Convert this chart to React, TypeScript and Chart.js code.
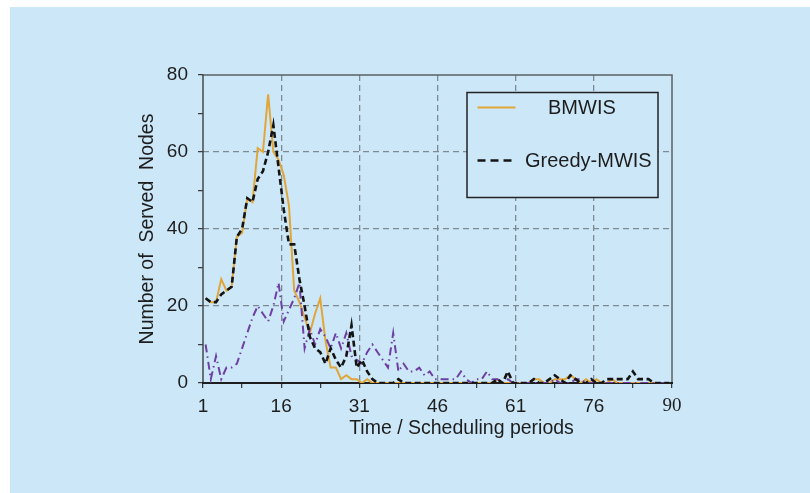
import React, { useEffect, useRef } from 'react';
import { Chart, registerables } from 'chart.js';

Chart.register(...registerables);

// ---- data ----
const periods: number[] = Array.from({ length: 90 }, (_, i) => i + 1);

const bmwis: number[] = [
  22, 21, 21, 27, 24, 25, 38, 39, 48, 47,
  61, 60, 75, 60, 58, 54, 46, 24, 21, 17,
  13, 18, 22, 11, 4, 4, 1, 2, 1, 1,
  0, 1, 0, 0, 0, 0, 0, 0, 0, 0,
  0, 0, 0, 0, 0, 0, 0, 0, 0, 0,
  0, 0, 0, 0, 0, 0, 1, 0, 0, 0,
  0, 0, 0, 1, 1, 0, 0, 1, 1, 1,
  2, 1, 0, 1, 0, 1, 0, 0, 1, 0,
  0, 0, 0, 0, 0, 0, 0, 0, 0, 0,
];

const greedyMwis: number[] = [
  22, 21, 21, 23, 24, 25, 38, 40, 48, 47,
  53, 55, 60, 67, 56, 45, 36, 36, 27, 20,
  12, 9, 8, 5, 9, 6, 4, 7, 15, 4,
  6, 3, 1, 0, 0, 0, 0, 1, 0, 0,
  0, 0, 0, 0, 0, 0, 0, 0, 0, 0,
  0, 0, 0, 0, 0, 0, 1, 0, 3, 0,
  0, 0, 0, 1, 0, 0, 1, 2, 1, 0,
  2, 1, 0, 0, 1, 0, 0, 1, 1, 1,
  1, 1, 3, 1, 1, 1, 0, 0, 0, 0,
];

const thirdSeries: number[] = [
  10, 1, 7, 1, 4, 4, 5, 9, 13, 17,
  20, 18, 16, 20, 26, 16, 19, 22, 26, 9,
  14, 10, 14, 12, 9, 13, 9, 13, 7, 6,
  5, 8, 10, 8, 6, 4, 13, 3, 5, 3,
  3, 4, 2, 3, 1, 1, 1, 1, 1, 3,
  1, 0, 1, 1, 3, 1, 1, 0, 1, 0,
  0, 0, 0, 0, 0, 0, 0, 1, 0, 0,
  0, 1, 1, 0, 0, 0, 0, 0, 0, 0,
  0, 0, 0, 0, 0, 0, 0, 0, 0, 0,
];

const xTickPeriods: number[] = [1, 16, 31, 46, 61, 76, 91];
const xTickLabels: string[] = ['1', '16', '31', '46', '61', '76', '90'];
const yMajorStep = 20;

const seriesLabels: string[] = ['BMWIS', 'Greedy-MWIS', ''];
const xTitle = 'Time / Scheduling periods';
const yTitle = 'Number of  Served  Nodes';

// ---- styles ----
const BG = '#cce8f8';
const FONT = '"Liberation Sans", Arial, sans-serif';
const ORANGE = '#e0a63a';
const BLACK = '#141414';
const PURPLE = '#6e3fa3';
const GRID = '#7d8a93';

export default function App() {
  const ref = useRef<HTMLCanvasElement | null>(null);

  useEffect(() => {
    const canvas = ref.current;
    if (!canvas) return;

    const xTicks: { value: number }[] = [];
    xTickPeriods.forEach((p, i) => {
      xTicks.push({ value: p - 0.5 });
      if (i < xTickPeriods.length - 1) {
        xTicks.push({ value: (p + xTickPeriods[i + 1]) / 2 - 0.5 });
      }
    });
    const majorIndex = (v: number) => xTickPeriods.findIndex((p) => p - 0.5 === v);

    const framePlugin = {
      id: 'frame',
      beforeDatasetsDraw(chart: any) {
        const { ctx, chartArea: a } = chart;
        ctx.save();
        ctx.setLineDash([]);
        ctx.lineCap = 'square';
        ctx.lineWidth = 1.5;
        ctx.strokeStyle = '#5b5f63';
        ctx.beginPath();
        ctx.moveTo(a.left, a.top);
        ctx.lineTo(a.right, a.top);
        ctx.lineTo(a.right, a.bottom);
        ctx.stroke();
        ctx.strokeStyle = '#45494d';
        ctx.beginPath();
        ctx.moveTo(a.left, a.bottom);
        ctx.lineTo(a.left, a.top);
        ctx.stroke();
        ctx.lineWidth = 2;
        ctx.strokeStyle = '#1e1e1e';
        ctx.beginPath();
        ctx.moveTo(a.left, a.bottom);
        ctx.lineTo(a.right, a.bottom);
        ctx.stroke();
        ctx.restore();
      },
      afterDatasetsDraw(chart: any) {
        const { ctx, chartArea: a } = chart;
        const ds = chart.data.datasets;
        const bx = a.left + 264;
        const by = a.top + 17.5;
        const bw = 191;
        const bh = 105;
        ctx.save();
        ctx.fillStyle = BG;
        ctx.fillRect(bx, by, bw, bh);
        ctx.setLineDash([]);
        ctx.lineWidth = 1.5;
        ctx.strokeStyle = '#222';
        ctx.strokeRect(bx, by, bw, bh);

        const entries = [
          { i: 0, y: by + 15, tx: bx + 81, dash: [] as number[], w: 2.2 },
          { i: 1, y: by + 68, tx: bx + 58, dash: [8, 5], w: 2.6 },
        ];
        ctx.font = `20px ${FONT}`;
        ctx.textBaseline = 'middle';
        ctx.textAlign = 'left';
        entries.forEach((e) => {
          ctx.beginPath();
          ctx.setLineDash(e.dash);
          ctx.lineWidth = e.w;
          ctx.strokeStyle = ds[e.i].borderColor;
          ctx.moveTo(bx + 10.5, e.y);
          ctx.lineTo(bx + 48.5, e.y);
          ctx.stroke();
          ctx.fillStyle = '#1d1d1d';
          ctx.fillText(ds[e.i].label, e.tx, e.y + 1);
        });
        ctx.restore();
      },
      afterDraw(chart: any) {
        const { ctx, chartArea: a } = chart;
        ctx.save();
        ctx.font = `19.5px ${FONT}`;
        ctx.fillStyle = '#1d1d1d';
        ctx.textAlign = 'center';
        ctx.textBaseline = 'middle';
        ctx.fillText(xTitle, a.left + 258.5, a.bottom + 46);
        ctx.restore();
      },
    };

    const chart = new Chart(canvas, {
      type: 'line',
      data: {
        datasets: [
          {
            label: seriesLabels[0],
            data: periods.map((p, i) => ({ x: p, y: bmwis[i] })),
            borderColor: ORANGE,
            borderWidth: 2,
            pointRadius: 0,
            order: 3,
          },
          {
            label: seriesLabels[1],
            data: periods.map((p, i) => ({ x: p, y: greedyMwis[i] })),
            borderColor: BLACK,
            borderWidth: 2.6,
            borderDash: [6, 3.5],
            pointRadius: 0,
            order: 1,
          },
          {
            label: seriesLabels[2],
            data: periods.map((p, i) => ({ x: p, y: thirdSeries[i] })),
            borderColor: PURPLE,
            borderWidth: 2,
            borderDash: [8, 4, 1.5, 4],
            pointRadius: 0,
            order: 2,
          },
        ],
      },
      options: {
        responsive: false,
        animation: false,
        layout: { padding: { left: 132, right: 138, top: 75, bottom: 0 } },
        plugins: { legend: { display: false }, tooltip: { enabled: false } },
        elements: { line: { tension: 0, fill: false } },
        scales: {
          x: {
            type: 'linear',
            min: 0.5,
            max: 90.5,
            afterBuildTicks: (scale: any) => {
              scale.ticks = xTicks.map((t) => ({ ...t }));
            },
            afterFit: (scale: any) => {
              scale.height = 110;
            },
            grid: {
              color: (c: any) => {
                const k = majorIndex(c.tick?.value);
                return k > 0 && k < xTickPeriods.length - 1 ? GRID : 'rgba(0,0,0,0)';
              },
              lineWidth: 1.3,
              tickLength: 5,
              tickColor: '#333',
              tickWidth: 1.2,
            },
            border: { display: false, dash: [6, 4] },
            ticks: {
              autoSkip: false,
              maxRotation: 0,
              minRotation: 0,
              padding: 7,
              color: '#1d1d1d',
              font: (c: any) =>
                c.index === xTicks.length - 1
                  ? { family: '"Liberation Serif", "Times New Roman", serif', size: 19 }
                  : { family: FONT, size: 19 },
              callback: (v: any) => {
                const k = majorIndex(Number(v));
                return k >= 0 ? xTickLabels[k] : '';
              },
            },
          },
          y: {
            min: 0,
            max: 80,
            afterFit: (scale: any) => {
              scale.width = 71;
            },
            grid: {
              color: (c: any) => {
                const v = c.tick?.value;
                return v > 0 && v < 80 && v % yMajorStep === 0 ? GRID : 'rgba(0,0,0,0)';
              },
              lineWidth: 1.3,
              tickLength: 5,
              tickColor: '#333',
              tickWidth: 1.2,
            },
            border: { display: false, dash: [6, 4] },
            ticks: {
              stepSize: 10,
              padding: 10,
              color: '#1d1d1d',
              font: { family: FONT, size: 19 },
              callback: (v: any) => (Number(v) % yMajorStep === 0 ? String(v) : ''),
            },
            title: {
              display: true,
              text: yTitle,
              color: '#1d1d1d',
              font: { family: FONT, size: 19.5 },
              padding: { top: 4, bottom: 4 },
            },
          },
        },
      },
      plugins: [framePlugin],
    } as any);

    return () => chart.destroy();
  }, []);

  return (
    <div style={{ position: 'fixed', left: 0, top: 0, width: 810, height: 493, background: '#ffffff' }}>
      <div style={{ position: 'absolute', left: 10, top: 7, width: 800, height: 486, background: BG }} />
      <canvas
        ref={ref}
        width={810}
        height={493}
        style={{ position: 'absolute', left: 0, top: 0, width: 810, height: 493 }}
      />
    </div>
  );
}
